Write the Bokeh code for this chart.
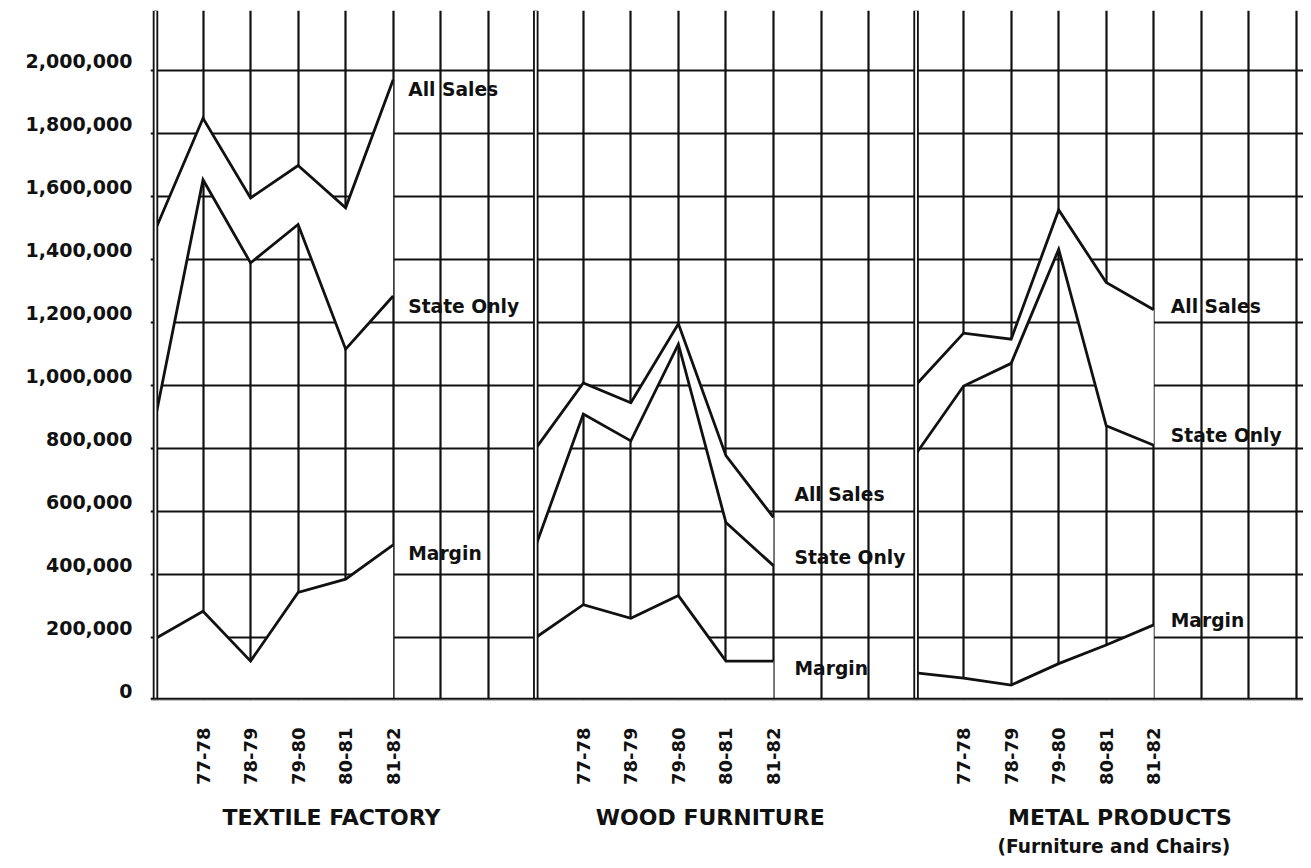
import math
from bokeh.plotting import figure
from bokeh.models import (Range1d, FixedTicker, Span, ColumnDataSource, LinearAxis)
from bokeh.core.properties import value
from bokeh.embed import file_html
from bokeh.resources import INLINE

# ---------------- data ----------------
years = ["77-78", "78-79", "79-80", "80-81", "81-82"]
panels = ["TEXTILE FACTORY", "WOOD FURNITURE", "METAL PRODUCTS"]
panel_subtitle = "(Furniture and Chairs)"
series_names = ["All Sales", "State Only", "Margin"]

# first value = starting point at the panel's left edge, then one value per year
textile_all = [1495000, 1848000, 1595000, 1698000, 1564000, 1970000]
textile_state = [898000, 1653000, 1389000, 1511000, 1115000, 1284000]
textile_margin = [197000, 283000, 125000, 343000, 385000, 494000]

wood_all = [800000, 1008000, 945000, 1196000, 777000, 581000]
wood_state = [491000, 909000, 824000, 1131000, 565000, 428000]
wood_margin = [200000, 304000, 261000, 333000, 125000, 125000]

metal_all = [1002000, 1166000, 1147000, 1557000, 1327000, 1240000]
metal_state = [783000, 998000, 1070000, 1432000, 872000, 810000]
metal_margin = [88000, 71000, 49000, 117000, 176000, 240000]

y_ticks = [0, 200000, 400000, 600000, 800000, 1000000,
           1200000, 1400000, 1600000, 1800000, 2000000]

panel_data = [
    (textile_all, textile_state, textile_margin),
    (wood_all, wood_state, wood_margin),
    (metal_all, metal_state, metal_margin),
]

# ---------------- layout / style ----------------
PANEL_SLOTS = 8          # grid columns per panel
N_SLOTS = 24
FONT = "DejaVu Sans"
INK = "#111111"
Y_LABEL_LIFT = 30000     # tick labels sit a little above their rule

# series-label nudges (px): x to the right of the last point, y downward
label_dx = [15, 21, 17]
label_dy = [[10, 11, 9], [-23, -8, 7], [-3, -10, -4]]
# panel title centres (in grid slots, relative to panel start)
title_slot = [3.70, 3.67, 4.29]
subtitle_slot = 4.16

p = figure(width=1303, height=860,
           x_range=Range1d(-0.105, 24.15), y_range=Range1d(0, 2190000),
           output_backend="svg", toolbar_location=None,
           min_border_left=150, min_border_right=0,
           min_border_top=10, min_border_bottom=160)
p.outline_line_color = None
p.background_fill_color = "white"
p.border_fill_color = "white"

# grid
p.xgrid.ticker = FixedTicker(ticks=list(range(N_SLOTS + 1)))
p.ygrid.ticker = FixedTicker(ticks=y_ticks)
for g in (p.xgrid, p.ygrid):
    g.grid_line_color = INK
    g.grid_line_width = 2.2

# y axis (labels lifted slightly above each rule, as in the original)
yax = p.yaxis[0]
yax.ticker = FixedTicker(ticks=[t + Y_LABEL_LIFT for t in y_ticks])
yax.major_label_overrides = {t + Y_LABEL_LIFT: f"{t:,}" for t in y_ticks}
yax.axis_line_color = None
yax.major_tick_line_color = None
yax.minor_tick_line_color = None
yax.major_label_standoff = 12
yax.major_label_text_font = FONT
yax.major_label_text_font_style = "bold"
yax.major_label_text_font_size = "19px"
yax.major_label_text_color = INK


def plain_axis(ax):
    ax.axis_line_color = None
    ax.major_tick_line_color = None
    ax.minor_tick_line_color = None
    ax.major_label_text_font = FONT
    ax.major_label_text_font_style = "bold"
    ax.major_label_text_color = INK


# x axis: year labels per panel
year_ticks = []
overrides = {}
for k in range(len(panels)):
    for j, yr in enumerate(years):
        t = k * PANEL_SLOTS + j + 1
        year_ticks.append(t)
        overrides[t] = yr
xax = p.xaxis[0]
xax.ticker = FixedTicker(ticks=year_ticks)
xax.major_label_overrides = overrides
xax.major_label_orientation = math.pi / 2
plain_axis(xax)
xax.major_label_standoff = 21
xax.major_label_text_font_size = "18px"

# panel titles as a second row below
t_ticks = [k * PANEL_SLOTS + title_slot[k] for k in range(len(panels))]
tax = LinearAxis(ticker=FixedTicker(ticks=t_ticks),
                 major_label_overrides={t: n for t, n in zip(t_ticks, panels)})
plain_axis(tax)
tax.major_label_standoff = 10
tax.major_label_text_font_size = "22px"
p.add_layout(tax, "below")

s_tick = 2 * PANEL_SLOTS + subtitle_slot
sax = LinearAxis(ticker=FixedTicker(ticks=[s_tick]),
                 major_label_overrides={s_tick: panel_subtitle})
plain_axis(sax)
sax.major_label_standoff = -3
sax.major_label_text_font_size = "18.6px"
p.add_layout(sax, "below")

# data
for k, (s_all, s_state, s_margin) in enumerate(panel_data):
    xs = [k * PANEL_SLOTS + i for i in range(len(s_all))]
    src = ColumnDataSource(dict(x=xs, all=s_all, state=s_state, margin=s_margin,
                                zero=[0] * len(xs)))
    # white bands hide the grid between All Sales and State Only, and under Margin
    p.varea(x="x", y1="state", y2="all", source=src, fill_color="white")
    p.varea(x="x", y1="zero", y2="margin", source=src, fill_color="white")
    for col in ("all", "state", "margin"):
        p.line(x="x", y=col, source=src, line_color=INK, line_width=2.8,
               line_join="miter")
    lsrc = ColumnDataSource(dict(
        x=[xs[-1]] * 3,
        y=[s_all[-1], s_state[-1], s_margin[-1]],
        text=series_names,
        dy=label_dy[k],
    ))
    p.text(x="x", y="y", text="text", source=lsrc, x_offset=label_dx[k], y_offset="dy",
           text_font=value(FONT), text_font_style="bold", text_font_size="18.7px",
           text_baseline="middle", text_align="left", text_color=INK)

# double rules: left axis, panel separators, baseline
for k in range(len(panels)):
    p.add_layout(Span(location=k * PANEL_SLOTS, dimension="height",
                      line_color=INK, line_width=5.5))
    p.add_layout(Span(location=k * PANEL_SLOTS, dimension="height",
                      line_color="white", line_width=1.8))
p.add_layout(Span(location=0, dimension="width", line_color=INK, line_width=5.5))
p.add_layout(Span(location=0, dimension="width", line_color="white", line_width=1.5))

open("out.html", "w").write(file_html(p, INLINE))
